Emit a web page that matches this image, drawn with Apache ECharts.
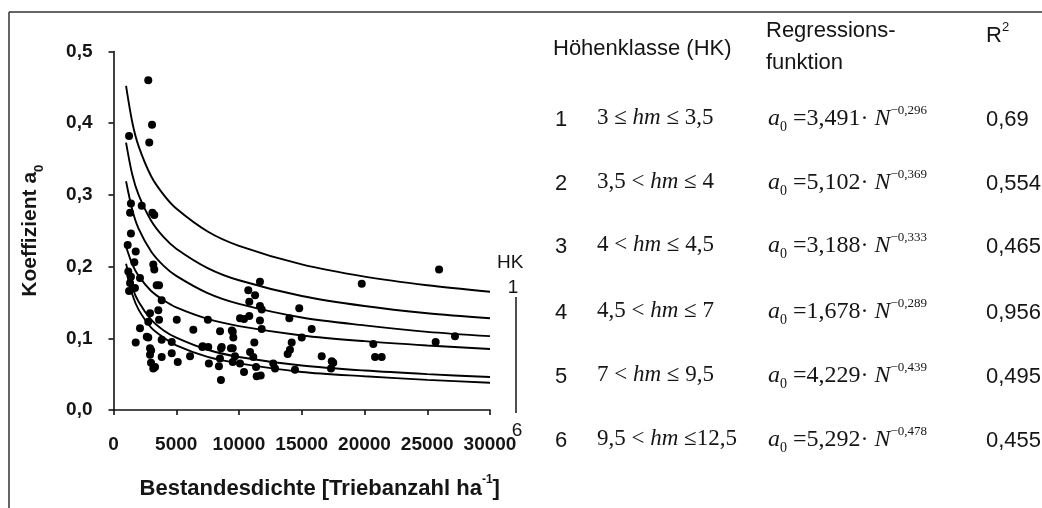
<!DOCTYPE html>
<html><head><meta charset="utf-8">
<script src="https://cdn.jsdelivr.net/npm/echarts@6/dist/echarts.min.js"></script>
<style>html,body{margin:0;padding:0;background:#fff}#c{width:1042px;height:508px}</style>
</head><body><div id="c"></div>
<script>
// ---- data ----
const xTicks = [0, 5000, 10000, 15000, 20000, 25000, 30000];
const yTicks = [0, 0.1, 0.2, 0.3, 0.4, 0.5];
const curveN = [1000, 1500, 2000, 3000, 4000, 5000, 7500, 10000, 15000, 20000, 25000, 30000];
const hk1 = [0.452, 0.401, 0.368, 0.326, 0.300, 0.281, 0.249, 0.229, 0.203, 0.186, 0.174, 0.165];
const hk2 = [0.373, 0.328, 0.300, 0.264, 0.241, 0.225, 0.198, 0.181, 0.159, 0.145, 0.135, 0.128];
const hk3 = [0.319, 0.279, 0.253, 0.221, 0.201, 0.187, 0.163, 0.148, 0.129, 0.118, 0.109, 0.103];
const hk4 = [0.228, 0.203, 0.187, 0.166, 0.153, 0.143, 0.127, 0.117, 0.104, 0.096, 0.090, 0.085];
const hk5 = [0.204, 0.171, 0.151, 0.126, 0.111, 0.101, 0.084, 0.074, 0.062, 0.055, 0.050, 0.046];
const hk6 = [0.195, 0.161, 0.140, 0.115, 0.101, 0.090, 0.074, 0.065, 0.053, 0.047, 0.042, 0.038];
const obsN = [2770, 3070, 1240, 2850, 1390, 2250, 1320, 3100, 3250, 1390,
  1130, 1770, 1660, 3170, 3250, 1180, 1390, 2110, 1320, 3440,
  3630, 1240, 1710, 3840, 2910, 3570, 2770, 3630, 5040, 2110,
  6360, 2770, 2650, 1770, 3840, 4640, 2910, 3000, 2910, 3840,
  4640, 5120, 6100, 2990, 3310, 3170, 7080, 7550, 8490, 8570,
  11670, 19780, 10740, 11280, 10820, 11670, 11810, 14800, 10080, 10400,
  10820, 11670, 14010, 11810, 15790, 9500, 9550, 11220, 15000, 14200,
  14060, 13880, 8620, 9500, 10880, 11140, 9680, 9500, 10080, 11360,
  12730, 12870, 14460, 16590, 17390, 17510, 17330, 10400, 11410, 11730,
  8560, 7520, 7600, 8480, 8400, 9430, 9360, 7100,
  25940, 27210, 25670, 20700, 20840, 21370];
const obsA = [0.460, 0.398, 0.382, 0.373, 0.288, 0.285, 0.275, 0.275, 0.272, 0.246,
  0.230, 0.221, 0.206, 0.203, 0.196, 0.193, 0.186, 0.184, 0.177, 0.174,
  0.174, 0.166, 0.170, 0.153, 0.135, 0.139, 0.123, 0.126, 0.126, 0.114,
  0.112, 0.101, 0.102, 0.094, 0.098, 0.095, 0.086, 0.083, 0.077, 0.074,
  0.079, 0.067, 0.075, 0.066, 0.060, 0.058, 0.088, 0.088, 0.110, 0.086,
  0.179, 0.176, 0.167, 0.160, 0.151, 0.145, 0.140, 0.142, 0.128, 0.127,
  0.131, 0.125, 0.128, 0.113, 0.113, 0.109, 0.101, 0.094, 0.101, 0.094,
  0.084, 0.078, 0.088, 0.086, 0.081, 0.074, 0.075, 0.067, 0.065, 0.060,
  0.065, 0.058, 0.056, 0.075, 0.068, 0.066, 0.058, 0.053, 0.047, 0.048,
  0.042, 0.126, 0.065, 0.072, 0.061, 0.111, 0.086, 0.089,
  0.196, 0.103, 0.095, 0.092, 0.074, 0.074];
const hkClass = ['1', '2', '3', '4', '5', '6'];
const hmLow = ['3 ≤ ', '3,5 < ', '4 < ', '4,5 < ', '7 < ', '9,5 < '];
const hmHigh = [' ≤ 3,5', ' ≤ 4', ' ≤ 4,5', ' ≤ 7', ' ≤ 9,5', ' ≤12,5'];
const coefA = ['3,491', '5,102', '3,188', '1,678', '4,229', '5,292'];
const expB = ['−0,296', '−0,369', '−0,333', '−0,289', '−0,439', '−0,478'];
const rSquared = ['0,69', '0,554', '0,465', '0,956', '0,495', '0,455'];

// ---- chart ----
const curves = [hk1, hk2, hk3, hk4, hk5, hk6];
const SANS = 'Liberation Sans, Arial, sans-serif';
const SERIF = 'Liberation Serif, Times New Roman, serif';
const INK = '#151515';

const chart = echarts.init(document.getElementById('c'), null, {renderer: 'canvas'});

const series = curves.map((c, k) => ({
  name: 'HK ' + hkClass[k], type: 'line', symbol: 'none', smooth: 0.3,
  lineStyle: {color: '#000', width: 1.9}, z: 3,
  data: curveN.map((n, i) => [n, c[i]])
}));
series.push({
  name: 'Messwerte', type: 'scatter', symbol: 'circle', symbolSize: 8,
  itemStyle: {color: '#000', opacity: 1}, z: 4,
  data: obsN.map((n, i) => [n, obsA[i]])
});

const rowY = [120, 184, 247, 313, 377, 441];
const graphic = [
  {type: 'line', shape: {x1: 9, y1: 12, x2: 1042, y2: 12}, style: {stroke: '#333', lineWidth: 1.5}},
  {type: 'line', shape: {x1: 9, y1: 12, x2: 9, y2: 508}, style: {stroke: '#333', lineWidth: 1.5}},
  {type: 'text', x: 497, y: 263, style: {text: 'HK', font: '19px ' + SANS, fill: INK, textVerticalAlign: 'middle'}},
  {type: 'text', x: 513, y: 288, style: {text: hkClass[0], font: '19px ' + SANS, fill: INK, textAlign: 'center', textVerticalAlign: 'middle'}},
  {type: 'line', shape: {x1: 516, y1: 297, x2: 516, y2: 413}, style: {stroke: '#222', lineWidth: 1.6}},
  {type: 'text', x: 517, y: 431, style: {text: hkClass[5], font: '19px ' + SANS, fill: INK, textAlign: 'center', textVerticalAlign: 'middle'}},
  {type: 'text', x: 553, y: 49, style: {text: 'Höhenklasse (HK)', font: '22px ' + SANS, fill: INK, textVerticalAlign: 'middle'}},
  {type: 'text', x: 766, y: 31, style: {text: 'Regressions-', font: '22px ' + SANS, fill: INK, textVerticalAlign: 'middle'}},
  {type: 'text', x: 766, y: 63, style: {text: 'funktion', font: '22px ' + SANS, fill: INK, textVerticalAlign: 'middle'}},
  {type: 'text', x: 986, y: 34, style: {
    text: '{t|R}{s|2}', textVerticalAlign: 'middle',
    rich: {t: {font: '22px ' + SANS, fill: INK, lineHeight: 26, verticalAlign: 'bottom'},
           s: {font: '13px ' + SANS, fill: INK, lineHeight: 14, verticalAlign: 'top'}}}}
];
rowY.forEach((y, i) => {
  graphic.push({type: 'text', x: 555, y: y, style: {text: hkClass[i], font: '22px ' + SANS, fill: INK, textVerticalAlign: 'middle'}});
  graphic.push({type: 'text', x: 597, y: y - 2, style: {
    text: '{t|' + hmLow[i] + '}{i|hm}{t|' + hmHigh[i] + '}', textVerticalAlign: 'middle',
    rich: {t: {font: '23px ' + SERIF, fill: INK},
           i: {font: 'italic 23px ' + SERIF, fill: INK}}}});
  graphic.push({type: 'text', x: 768, y: y - 1, style: {
    text: '{i|a}{sub|0}{t| =' + coefA[i] + '· }{i|N}{sup|' + expB[i] + '}', textVerticalAlign: 'middle',
    rich: {t: {font: '24px ' + SERIF, fill: INK, lineHeight: 30, verticalAlign: 'middle'},
           i: {font: 'italic 24px ' + SERIF, fill: INK, lineHeight: 30, verticalAlign: 'middle'},
           sup: {font: '13px ' + SERIF, fill: INK, lineHeight: 15, verticalAlign: 'top'},
           sub: {font: '14px ' + SERIF, fill: INK, lineHeight: 15, verticalAlign: 'bottom'}}}});
  graphic.push({type: 'text', x: 986, y: y, style: {text: rSquared[i], font: '22px ' + SANS, fill: INK, textVerticalAlign: 'middle'}});
});

chart.setOption({
  animation: false,
  backgroundColor: '#fff',
  textStyle: {fontFamily: SANS},
  grid: {left: 113.5, right: 552, top: 51.5, bottom: 98, containLabel: false},
  xAxis: {
    type: 'value', min: xTicks[0], max: xTicks[xTicks.length - 1], interval: xTicks[1] - xTicks[0],
    splitLine: {show: false},
    axisLine: {show: true, onZero: false, lineStyle: {color: '#111', width: 1.6}},
    axisTick: {show: true, inside: false, length: 5, lineStyle: {color: '#111', width: 1.6}},
    axisLabel: {margin: 25, color: INK, fontSize: 19, fontWeight: 'bold', fontFamily: SANS,
      formatter: v => String(v)},
    name: '{b|Bestandesdichte [Triebanzahl ha}{s|-1}{b|]}', nameLocation: 'middle', nameGap: 64,
    nameTextStyle: {padding: [0, 0, 0, 36],
      rich: {b: {fontSize: 22, fontWeight: 'bold', color: INK, fontFamily: SANS, lineHeight: 26, verticalAlign: 'bottom'},
             s: {fontSize: 12, fontWeight: 'bold', color: INK, fontFamily: SANS, lineHeight: 14, verticalAlign: 'top'}}}
  },
  yAxis: {
    type: 'value', min: yTicks[0], max: yTicks[yTicks.length - 1], interval: yTicks[1] - yTicks[0],
    splitLine: {show: false},
    axisLine: {show: true, onZero: false, lineStyle: {color: '#111', width: 1.6}},
    axisTick: {show: true, inside: false, length: 5, lineStyle: {color: '#111', width: 1.6}},
    axisLabel: {margin: 21, color: INK, fontSize: 19, fontWeight: 'bold', fontFamily: SANS,
      formatter: v => v.toFixed(1).replace('.', ',')},
    name: '{b|Koeffizient a}{s|0}', nameLocation: 'middle', nameRotate: 90, nameGap: 68,
    nameTextStyle: {
      rich: {b: {fontSize: 21, fontWeight: 'bold', color: INK, fontFamily: SANS, lineHeight: 26, verticalAlign: 'top'},
             s: {fontSize: 13, fontWeight: 'bold', color: INK, fontFamily: SANS, lineHeight: 14, verticalAlign: 'bottom'}}}
  },
  series: series,
  graphic: graphic
});
</script></body></html>
